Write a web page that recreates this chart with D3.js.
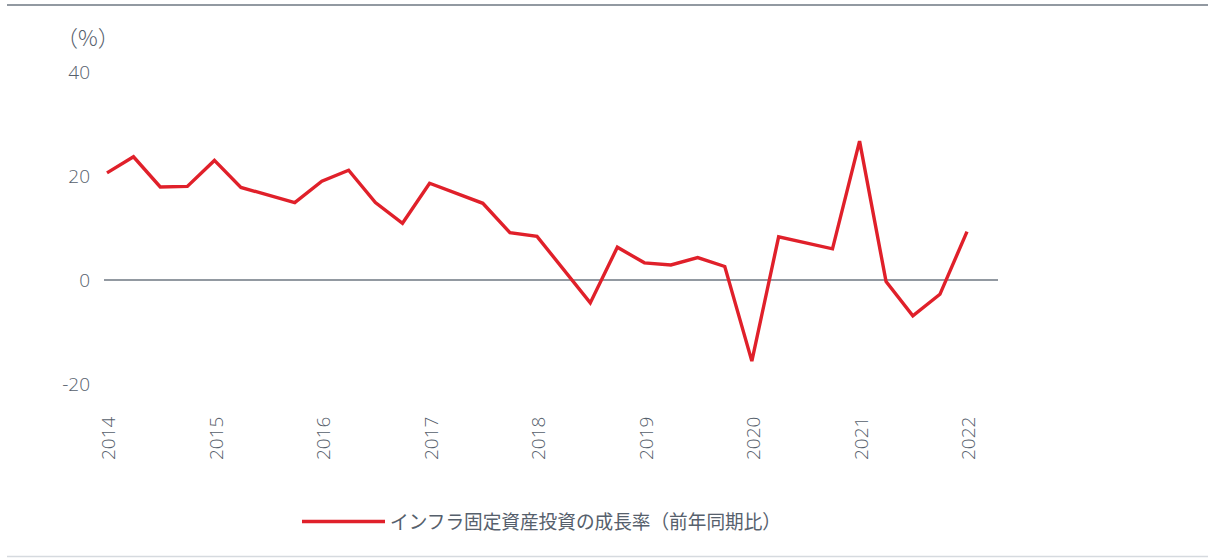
<!DOCTYPE html>
<html>
<head>
<meta charset="utf-8">
<script src="https://cdn.jsdelivr.net/npm/d3@7"></script>
<style>
  body { margin: 0; background: #fff; }
  svg text { font-family: "Open Sans", "Noto Sans CJK JP", sans-serif; font-weight: 300; fill: #56606c; }
</style>
</head>
<body>
<div id="chart"></div>
<script>
// quarterly points, some quarters missing in the source chart
var dates = ["2014-01","2014-04","2014-07","2014-10","2015-01","2015-04","2015-10",
  "2016-01","2016-04","2016-07","2016-10","2017-01","2017-07","2017-10","2018-01",
  "2018-07","2018-10","2019-01","2019-04","2019-07","2019-10","2020-01","2020-04",
  "2020-10","2021-01","2021-04","2021-07","2021-10","2022-01"];
var growth = [20.6,23.7,17.9,18.0,23.0,17.8,14.9,19.0,21.1,14.9,10.9,18.6,14.75,9.1,8.4,
  -4.4,6.3,3.3,2.9,4.3,2.6,-15.6,8.3,6.0,26.7,-0.3,-6.9,-2.75,9.3];
var yearTicks = [2014,2015,2016,2017,2018,2019,2020,2021,2022];
var yTicks = [-20,0,20,40];
var seriesName = "インフラ固定資産投資の成長率（前年同期比）";

var width = 1211, height = 558;
var parse = d3.timeParse("%Y-%m");
var data = dates.map((d, i) => ({date: parse(d), value: growth[i]}));

var svg = d3.select("#chart").append("svg")
    .attr("width", width)
    .attr("height", height);

// frame rules top and bottom
svg.append("line")
    .attr("x1", 7).attr("x2", 1208).attr("y1", 5).attr("y2", 5)
    .attr("stroke", "#6e7782").attr("stroke-width", 1.6);
svg.append("line")
    .attr("x1", 7).attr("x2", 1208).attr("y1", 556.5).attr("y2", 556.5)
    .attr("stroke", "#d6dadf").attr("stroke-width", 1.5);

var xScale = d3.scaleTime()
    .domain([new Date(2014, 0, 1), new Date(2022, 0, 1)])
    .range([107, 967]);
var yScale = d3.scaleLinear()
    .domain([-20, 40])
    .range([384, 72]);

// y axis labels (plain hyphen for negatives like the source)
var yAxis = d3.axisLeft(yScale).tickValues(yTicks).tickSize(0).tickPadding(0).tickFormat(d => String(d));
svg.append("g")
    .attr("transform", "translate(90,0)")
    .call(yAxis)
    .call(g => g.select(".domain").remove())
    .selectAll("text")
    .style("font-size", "19px")
    .attr("dy", "0.35em");

svg.append("text")
    .attr("x", 56).attr("y", 38)
    .attr("dy", "0.35em")
    .style("font-size", "22px")
    .style("font-family", "'Noto Sans CJK JP', sans-serif")
    .text("（%）");

// zero line
svg.append("line")
    .attr("x1", 104).attr("x2", 998)
    .attr("y1", yScale(0)).attr("y2", yScale(0))
    .attr("stroke", "#6e7782").attr("stroke-width", 1.3);

// x axis, year labels rotated
var xAxis = d3.axisBottom(xScale)
    .tickValues(yearTicks.map(y => new Date(y, 0, 1)))
    .tickFormat(d3.timeFormat("%Y"))
    .tickSize(0);
svg.append("g")
    .attr("transform", "translate(1,460)")
    .call(xAxis)
    .call(g => g.select(".domain").remove())
    .selectAll("text")
    .style("font-size", "19px")
    .style("text-anchor", "start")
    .attr("transform", "rotate(-90)")
    .attr("x", 0).attr("y", 0).attr("dx", 0)
    .attr("dy", "0.35em");

var line = d3.line()
    .x(d => xScale(d.date))
    .y(d => yScale(d.value));

svg.append("path")
    .datum(data)
    .attr("d", line)
    .attr("fill", "none")
    .attr("stroke", "#e0202a")
    .attr("stroke-width", 3.4)
    .attr("stroke-linejoin", "miter");

// legend
var legend = svg.append("g");
legend.append("line")
    .attr("x1", 302).attr("x2", 385).attr("y1", 521.5).attr("y2", 521.5)
    .attr("stroke", "#e0202a").attr("stroke-width", 3.4);
legend.append("text")
    .attr("x", 390).attr("y", 522)
    .attr("dy", "0.35em")
    .attr("textLength", 391)
    .attr("lengthAdjust", "spacingAndGlyphs")
    .style("font-size", "19.5px")
    .style("font-family", "'Noto Sans CJK JP', sans-serif")
    .style("font-weight", 400)
    .text(seriesName);
</script>
</body>
</html>
